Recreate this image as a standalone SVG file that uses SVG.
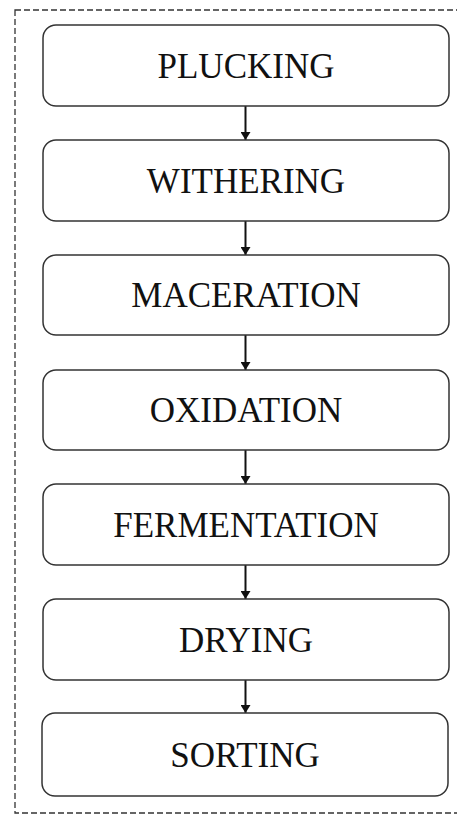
<svg xmlns="http://www.w3.org/2000/svg" width="457" height="817" viewBox="0 0 457 817">
<style>
.box{fill:#fff;stroke:#333;stroke-width:1.5}
.lbl{font-family:"Liberation Serif","Times New Roman",serif;font-size:35px;fill:#111;text-anchor:middle}
.con{stroke:#111;stroke-width:2;fill:none}
</style>
<defs>
<marker id="ah" markerWidth="8" markerHeight="10" refX="8" refY="5" orient="auto" markerUnits="userSpaceOnUse">
<path d="M0,0 L8,5 L0,10 Z" fill="#111"/>
</marker>
</defs>
<rect x="0" y="0" width="457" height="817" fill="#fff"/>
<rect x="15" y="10" width="460" height="803" fill="none" stroke="#333" stroke-width="1.3" stroke-dasharray="6,3"/>
<g id="connectors">
<line class="con" x1="245.5" y1="106" x2="245.5" y2="140" marker-end="url(#ah)"/>
<line class="con" x1="245.5" y1="221" x2="245.5" y2="255" marker-end="url(#ah)"/>
<line class="con" x1="245.5" y1="335" x2="245.5" y2="370" marker-end="url(#ah)"/>
<line class="con" x1="245.5" y1="450" x2="245.5" y2="484" marker-end="url(#ah)"/>
<line class="con" x1="245.5" y1="565" x2="245.5" y2="599" marker-end="url(#ah)"/>
<line class="con" x1="245.5" y1="680" x2="245.5" y2="713" marker-end="url(#ah)"/>
</g>
<g id="plucking"><rect class="box" x="43" y="25" width="406" height="81" rx="13"/><text class="lbl" x="246" y="78">PLUCKING</text></g>
<g id="withering"><rect class="box" x="43" y="140" width="406" height="81" rx="13"/><text class="lbl" x="246" y="193">WITHERING</text></g>
<g id="maceration"><rect class="box" x="43" y="255" width="406" height="80" rx="13"/><text class="lbl" x="246" y="307">MACERATION</text></g>
<g id="oxidation"><rect class="box" x="43" y="370" width="406" height="80" rx="13"/><text class="lbl" x="246" y="422">OXIDATION</text></g>
<g id="fermentation"><rect class="box" x="43" y="484" width="406" height="81" rx="13"/><text class="lbl" x="246" y="537">FERMENTATION</text></g>
<g id="drying"><rect class="box" x="43" y="599" width="406" height="81" rx="13"/><text class="lbl" x="246" y="652">DRYING</text></g>
<g id="sorting"><rect class="box" x="42" y="713" width="406" height="83" rx="13"/><text class="lbl" x="245" y="767">SORTING</text></g>
</svg>
